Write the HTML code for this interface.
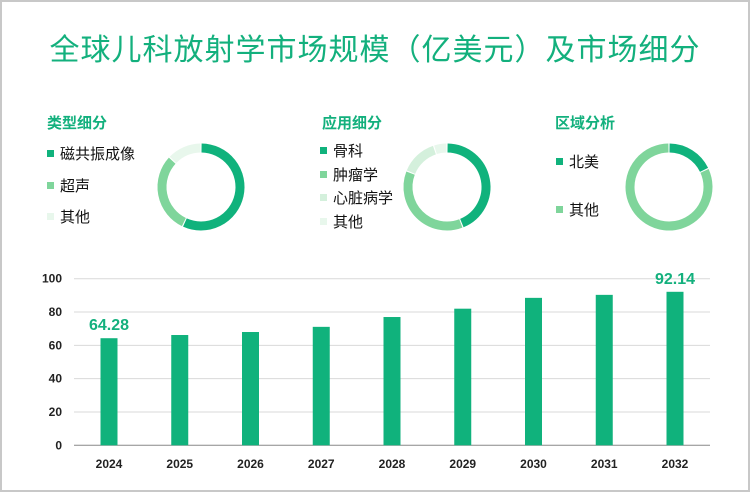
<!DOCTYPE html>
<html><head><meta charset="utf-8"><style>
body{margin:0;background:#fff;}
#wrap{position:relative;width:750px;height:492px;overflow:hidden;font-family:"Liberation Sans","Noto Sans CJK SC",sans-serif;}
.frame{position:absolute;left:0;top:0;width:746px;height:488px;border:2px solid #c8c8c8;}
.title{position:absolute;left:0;width:750px;top:31px;text-align:center;font-size:30px;color:#13b07d;line-height:40px;letter-spacing:1px;}
.sec{position:absolute;font-size:15px;font-weight:bold;color:#13b07d;}
.lg{position:absolute;font-size:15px;color:#111;line-height:18px;}
.lg i{display:inline-block;width:7px;height:7px;margin-right:6px;vertical-align:middle;position:relative;top:-2px;}
</style></head><body>
<div id="wrap">
<div class="frame"></div>
<div class="title">全球儿科放射学市场规模（亿美元）及市场细分</div>
<div class="sec" style="left:47px;top:112px">类型细分</div>
<div class="sec" style="left:322px;top:112px">应用细分</div>
<div class="sec" style="left:555px;top:112px">区域分析</div>
<div class="lg" style="left:47px;top:146px"><i style="background:#10b27c"></i>磁共振成像</div>
<div class="lg" style="left:47px;top:178px"><i style="background:#7fd59b"></i>超声</div>
<div class="lg" style="left:47px;top:209px"><i style="background:#e8f7ec"></i>其他</div>
<div class="lg" style="left:320px;top:143px"><i style="background:#10b27c"></i>骨科</div>
<div class="lg" style="left:320px;top:167px"><i style="background:#7fd59b"></i>肿瘤学</div>
<div class="lg" style="left:320px;top:190px"><i style="background:#d4f0dc"></i>心脏病学</div>
<div class="lg" style="left:320px;top:214px"><i style="background:#e8f7ec"></i>其他</div>
<div class="lg" style="left:556px;top:154px"><i style="background:#10b27c"></i>北美</div>
<div class="lg" style="left:556px;top:202px"><i style="background:#7fd59b"></i>其他</div>
<svg id="svg" width="750" height="492" style="position:absolute;left:0;top:0"></svg>
</div>
<script>
const years=["2024","2025","2026","2027","2028","2029","2030","2031","2032"];
const sizes=[64.28,66.2,68,71.1,77,82,88.5,90.3,92.14];
const yTicks=[0,20,40,60,80,100];
const typeShares=[57,30,13];
const appShares=[44,37,14,5];
const regionShares=[18,82];
const donutColors=["#10b27c","#7fd59b","#d4f0dc","#e8f7ec"];
const typeColors=["#10b27c","#7fd59b","#e8f7ec"];
const NS="http://www.w3.org/2000/svg";
const svg=document.getElementById('svg');
function mk(t,a){const e=document.createElementNS(NS,t);for(const k in a)e.setAttribute(k,a[k]);svg.appendChild(e);return e;}
const x0=74,x1=710,yB=445.3,yT=278.7;
const yS=v=>yB-(v/100)*(yB-yT);
const step=(675-109)/8;
const xS=i=>109+i*step;
yTicks.forEach(t=>{
 const l=mk('line',{x1:x0,x2:x1,y1:yS(t),y2:yS(t),stroke:t===0?'#888':'#d9d9d9','stroke-width':1});
 
 
 const tx=mk('text',{x:62,y:yS(t)+4,'text-anchor':'end','font-size':12,'font-weight':'bold',fill:'#222','font-family':'Liberation Sans,sans-serif'});
 tx.textContent=t;
 
 
});
years.forEach((yr,i)=>{
 const r=mk('rect',{x:xS(i)-8.5,y:yS(sizes[i]),width:17,height:yB-yS(sizes[i]),fill:'#10b27c'});
 
 
 const tx=mk('text',{x:xS(i),y:468,'text-anchor':'middle','font-size':12,'font-weight':'bold',fill:'#222','font-family':'Liberation Sans,sans-serif'});
 tx.textContent=yr;
 
 
 if(i===0||i===years.length-1){
  const v=mk('text',{x:xS(i),y:yS(sizes[i])-8,'text-anchor':'middle','font-size':16,'font-weight':'bold',fill:'#13b07d','font-family':'Liberation Sans,sans-serif'});
  v.textContent=sizes[i].toFixed(2);
  
  
 }
});
function donut(cx,cy,shares,cols,name){
 const R=39,tot=shares.reduce((a,b)=>a+b,0);let a0=0;
 shares.forEach((s,i)=>{
  const a1=a0+s/tot*360;
  const p=a=>[cx+R*Math.sin(a*Math.PI/180),cy-R*Math.cos(a*Math.PI/180)];
  const g=0.8;const [sx,sy]=p(a0+g),[ex,ey]=p(a1-g);
  const e=mk('path',{d:`M${sx},${sy} A${R},${R} 0 ${a1-a0>180?1:0} 1 ${ex},${ey}`,fill:'none',stroke:cols[i],'stroke-width':9});
  
  
  a0=a1;
 });
}
donut(201,187,typeShares,typeColors,'type-donut');
donut(447,187,appShares,donutColors,'application-donut');
donut(669,187,regionShares,donutColors,'region-donut');
</script>
</body></html>
